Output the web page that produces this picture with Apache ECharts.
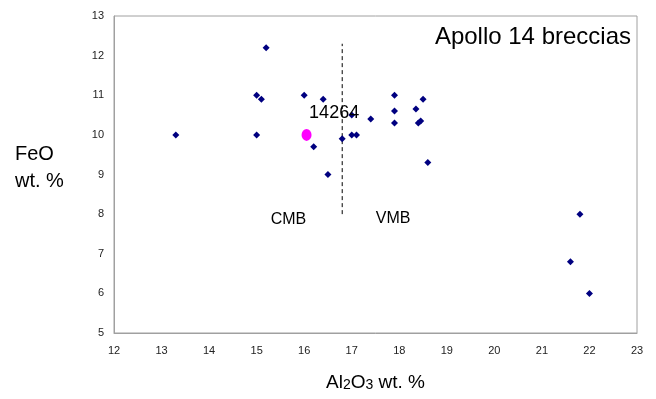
<!DOCTYPE html>
<html>
<head>
<meta charset="utf-8">
<script src="https://cdn.jsdelivr.net/npm/echarts@6/dist/echarts.min.js"></script>
<style>
  html, body { margin: 0; padding: 0; background: #fff; }
  #chart { width: 656px; height: 399px; }
</style>
</head>
<body>
<div id="chart"></div>
<script>
// Al2O3 wt.% (x) and FeO wt.% (y) of Apollo 14 breccias
const al2o3 = [13.3, 15.2, 15.0, 15.1, 15.0, 16.0, 16.4, 16.2, 16.5, 16.8, 17.0, 17.0, 17.1, 17.4, 17.9, 17.9, 17.9, 18.35, 18.5, 18.4, 18.45, 18.6, 21.8, 21.6, 22.0]
const feo = [10.0, 12.2, 11.0, 10.9, 10.0, 11.0, 10.9, 9.7, 9.0, 9.9, 10.5, 10.0, 10.0, 10.4, 11.0, 10.6, 10.3, 10.65, 10.9, 10.3, 10.35, 9.3, 8.0, 6.8, 6.0]

// sample 14264
const sampleName = '14264'
const samplePoint = [16.05, 10.0]
const sampleLabelAt = [16.63, 10.54]

// CMB / VMB divider
const dividerX = 16.8
const dividerY = [8.0, 12.3]
const groupLabels = [
  { name: 'CMB', value: [15.67, 7.86] },
  { name: 'VMB', value: [17.87, 7.88] },
]

const font = '"Liberation Sans", Arial, sans-serif'
const chart = echarts.init(document.getElementById('chart'))

chart.setOption({
  animation: false,
  textStyle: { fontFamily: font },
  title: {
    text: 'Apollo 14 breccias',
    right: 25,
    top: 25,
    padding: 0,
    textStyle: { fontFamily: font, fontSize: 24, fontWeight: 'normal', color: '#000' },
  },
  grid: {
    left: 114,
    right: 19,
    top: 16,
    bottom: 66,
    show: true,
    borderColor: '#a0a0a0',
    borderWidth: 1,
  },
  xAxis: {
    type: 'value',
    min: 12,
    max: 23,
    interval: 1,
    name: 'Al{sub|2}O{sub|3} wt. %',
    nameLocation: 'middle',
    nameGap: 40,
    nameTextStyle: {
      fontFamily: font,
      fontSize: 19,
      color: '#000',
      rich: { sub: { fontFamily: font, fontSize: 14, color: '#000', verticalAlign: 'bottom' } },
    },
    axisLine: { lineStyle: { color: '#a0a0a0' } },
    axisTick: { show: false },
    splitLine: { show: false },
    axisLabel: { fontFamily: font, fontSize: 11, color: '#222', margin: 12 },
  },
  yAxis: {
    type: 'value',
    min: 5,
    max: 13,
    interval: 1,
    axisLine: { show: true, lineStyle: { color: '#a0a0a0' } },
    axisTick: { show: false },
    splitLine: { show: false },
    axisLabel: { fontFamily: font, fontSize: 11, color: '#222', margin: 10 },
  },
  graphic: [{
    type: 'text',
    left: 15,
    top: 141,
    style: {
      text: 'FeO\nwt. %',
      font: '20px ' + font,
      lineHeight: 27,
      fill: '#000',
    },
  }],
  series: [
    {
      type: 'line',
      data: dividerY.map(y => [dividerX, y]),
      symbol: 'none',
      lineStyle: { color: '#000', width: 1, type: [4, 3] },
      z: 1,
    },
    {
      type: 'scatter',
      data: al2o3.map((x, i) => [x, feo[i]]),
      symbol: 'diamond',
      symbolSize: 7,
      itemStyle: { color: '#000080', opacity: 1 },
      z: 3,
    },
    {
      type: 'scatter',
      data: [samplePoint],
      symbol: 'circle',
      symbolSize: [10, 12],
      itemStyle: { color: '#ff00ff', opacity: 1 },
      z: 4,
    },
    {
      type: 'scatter',
      data: [
        { name: sampleName, value: sampleLabelAt, label: { fontSize: 18 } },
        ...groupLabels,
      ],
      symbolSize: 0,
      itemStyle: { opacity: 1 },
      label: {
        show: true,
        position: 'inside',
        formatter: p => p.name,
        fontFamily: font,
        color: '#000',
        fontSize: 16,
      },
      emphasis: { disabled: true },
      z: 5,
    },
  ],
})
</script>
</body>
</html>
